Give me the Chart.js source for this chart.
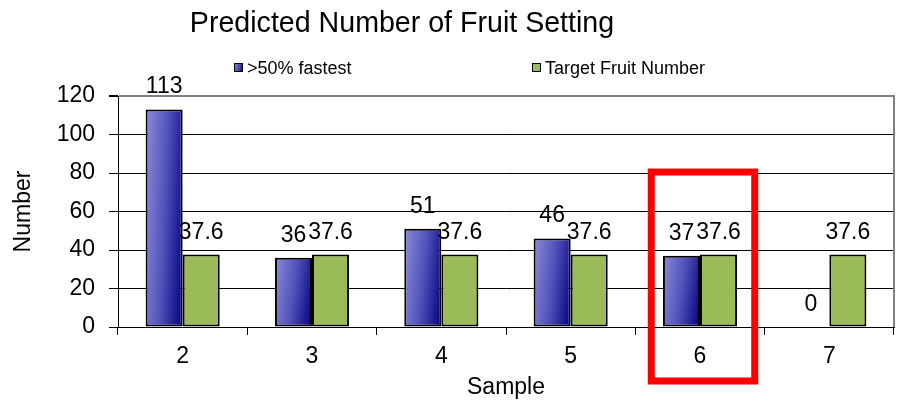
<!DOCTYPE html>
<html><head><meta charset="utf-8">
<script src="https://cdn.jsdelivr.net/npm/chart.js@4/dist/chart.umd.min.js"></script>
<style>html,body{margin:0;padding:0;background:#fff;} canvas{display:block;}</style>
</head><body>
<canvas id="c" width="905" height="412"></canvas>
<script>
// ---- data ----
const chartTitle = 'Predicted Number of Fruit Setting';
const categories = ['2', '3', '4', '5', '6', '7'];
const seriesNames = ['>50% fastest', 'Target Fruit Number'];
const fastestValues = [113, 36, 51, 46, 37, 0];
const targetValues = [37.6, 37.6, 37.6, 37.6, 37.6, 37.6];
const yTickMin = 0, yTickMax = 120, yTickStep = 20;
const xAxisTitle = 'Sample';
const yAxisTitle = 'Number';
const highlightCategory = '6';
const highlightTopValue = 80.5;

// ---- style ----
const FONT = 'Liberation Sans, Arial, Helvetica, sans-serif';
const GREEN = '#9bbb59';
const BLUE_LIGHT = '#8c8cda', BLUE_MID = '#5252ba', BLUE_DARK = '#00007e';

function blueGradient(c, left, top, w, h) {
  // t = 0.8*u + 0.2*v across the bar box
  const a = 0.8 / w, b = 0.2 / h;
  const s = 1 / (a * a + b * b);
  const g = c.createLinearGradient(left, top, left + s * a, top + s * b);
  g.addColorStop(0, BLUE_LIGHT);
  g.addColorStop(0.5, BLUE_MID);
  g.addColorStop(1, BLUE_DARK);
  return g;
}

const gradientPlugin = {
  id: 'gradientBars',
  beforeDatasetsDraw(chart) {
    const meta = chart.getDatasetMeta(0);
    meta.data.forEach(el => {
      const p = el.getProps(['x', 'y', 'base', 'width'], true);
      const left = p.x - p.width / 2;
      const top = Math.min(p.y, p.base);
      const h = Math.max(Math.abs(p.base - p.y), 1);
      el.options.backgroundColor = blueGradient(chart.ctx, left, top, p.width, h);
    });
  }
};

const framePlugin = {
  id: 'frame',
  beforeDatasetsDraw(chart) {
    const {ctx, chartArea} = chart;
    ctx.save();
    ctx.strokeStyle = '#808080';
    ctx.lineWidth = 2;
    ctx.beginPath();
    ctx.moveTo(chartArea.right, chartArea.top - 1);
    ctx.lineTo(chartArea.right, chartArea.bottom);
    ctx.stroke();
    ctx.restore();
  }
};

const valueLabelPlugin = {
  id: 'valueLabels',
  afterDatasetsDraw(chart) {
    const ctx = chart.ctx;
    ctx.save();
    ctx.font = '23px ' + FONT;
    ctx.fillStyle = '#000';
    ctx.textAlign = 'center';
    ctx.textBaseline = 'alphabetic';
    chart.data.datasets.forEach((ds, di) => {
      const meta = chart.getDatasetMeta(di);
      meta.data.forEach((el, i) => {
        const p = el.getProps(['x', 'y'], true);
        ctx.fillText(String(ds.data[i]), p.x, p.y - 16);
      });
    });
    ctx.restore();
  }
};

const titleLegendPlugin = {
  id: 'titleLegend',
  afterDraw(chart) {
    const ctx = chart.ctx;
    ctx.save();
    ctx.fillStyle = '#000';
    ctx.font = '28.6px ' + FONT;
    ctx.textAlign = 'center';
    ctx.textBaseline = 'alphabetic';
    ctx.fillText(chartTitle, 402, 32);
    // legend
    const items = [{x: 234}, {x: 532}];
    ctx.font = '18px ' + FONT;
    ctx.textAlign = 'left';
    chart.data.datasets.forEach((ds, i) => {
      const bx = items[i].x, by = 63, bs = 9;
      ctx.fillStyle = i === 0 ? blueGradient(ctx, bx, by, bs, bs) : GREEN;
      ctx.fillRect(bx, by, bs, bs);
      ctx.strokeStyle = '#000';
      ctx.lineWidth = 1;
      ctx.strokeRect(bx + 0.5, by + 0.5, bs - 1, bs - 1);
      ctx.fillStyle = '#000';
      ctx.fillText(ds.label, bx + 13, 74);
    });
    ctx.restore();
  }
};

const highlightPlugin = {
  id: 'highlight',
  afterDraw(chart) {
    const {ctx, chartArea, scales} = chart;
    const idx = categories.indexOf(highlightCategory);
    const cx = scales.x.getPixelForValue(idx);
    const catW = (chartArea.right - chartArea.left) / categories.length;
    const half = catW * 0.4;
    const top = scales.y.getPixelForValue(highlightTopValue);
    const bottom = chartArea.bottom + 54;
    ctx.save();
    ctx.strokeStyle = '#ff0000';
    ctx.lineWidth = 7;
    ctx.strokeRect(cx - half + 3, top, 2 * half, bottom - top);
    ctx.restore();
  }
};

new Chart(document.getElementById('c'), {
  type: 'bar',
  data: {
    labels: categories,
    datasets: [
      {
        label: seriesNames[0],
        data: fastestValues,
        backgroundColor: BLUE_MID,
        borderColor: '#000',
        borderWidth: ctx => (ctx.raw === 0 ? 0 : 2),
        borderSkipped: false
      },
      {
        label: seriesNames[1],
        data: targetValues,
        backgroundColor: GREEN,
        borderColor: '#000',
        borderWidth: 2,
        borderSkipped: false
      }
    ]
  },
  options: {
    responsive: false,
    devicePixelRatio: 1,
    animation: false,
    categoryPercentage: 0.573,
    barPercentage: 1.0,
    layout: {padding: {top: 96, right: 11, left: 0, bottom: 0}},
    plugins: {
      legend: {display: false},
      title: {display: false},
      tooltip: {enabled: false}
    },
    scales: {
      x: {
        offset: true,
        grid: {offset: true, drawOnChartArea: false, drawTicks: true, tickLength: 8, tickColor: '#000', color: '#000'},
        border: {color: '#000', width: 1},
        ticks: {color: '#000', font: {family: FONT, size: 23}, padding: 8, maxRotation: 0},
        title: {display: true, text: xAxisTitle, color: '#000', font: {family: FONT, size: 23}, padding: {top: 0, bottom: 11}},
        afterFit: s => { s.height = 85; }
      },
      y: {
        min: yTickMin,
        max: yTickMax,
        ticks: {stepSize: yTickStep, color: '#000', font: {family: FONT, size: 23}, padding: 14},
        grid: {
          color: ctx => (ctx.tick && ctx.tick.value === yTickMax ? '#808080' : '#000'),
          lineWidth: ctx => (ctx.tick && ctx.tick.value === yTickMax ? 2 : 1),
          tickColor: '#000',
          tickLength: 9,
          drawTicks: true
        },
        border: {color: '#000', width: 1},
        title: {display: true, text: yAxisTitle, color: '#000', font: {family: FONT, size: 23}, padding: {top: 10, bottom: 0}},
        afterFit: s => { s.width = 118; }
      }
    }
  },
  plugins: [gradientPlugin, framePlugin, valueLabelPlugin, titleLegendPlugin, highlightPlugin]
});
</script>
</body></html>
